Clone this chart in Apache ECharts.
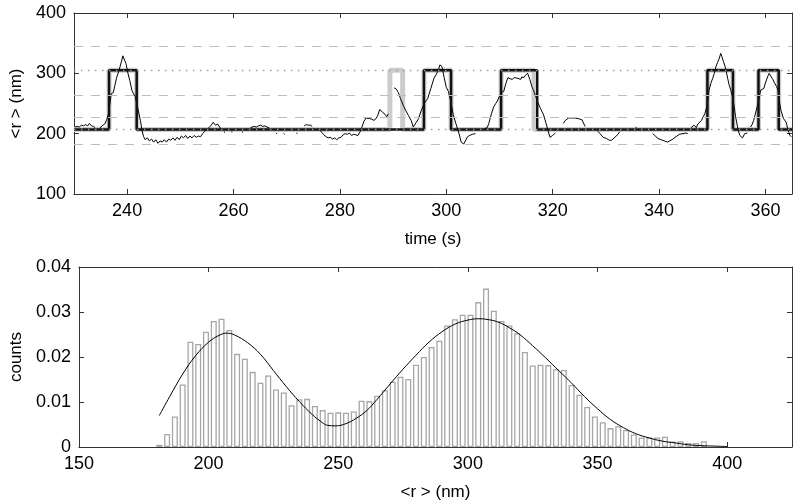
<!DOCTYPE html>
<html>
<head>
<meta charset="utf-8">
<script src="https://cdn.jsdelivr.net/npm/echarts@6/dist/echarts.min.js"></script>
<style>
html,body{margin:0;padding:0;background:#fff}
#c1{width:800px;height:502px}
</style>
</head>
<body>
<div id="c1"></div>
<script>
// top panel: trace of <r> vs time, null = gap in the trace
var traceTime = [230.2,230.6,231.0,231.4,231.8,232.2,232.6,232.9,233.3,233.7,234.0,234.4,
  234.8,235.3,235.8,236.2,236.5,237.0,237.4,237.7,238.0,238.4,238.7,239.0,239.2,239.5,239.8,240.1,240.5,240.9,241.2,241.5,241.9,242.2,242.5,242.8,243.1,243.4,243.8,244.2,244.6,245.0,245.4,245.8,246.2,246.6,247.0,247.4,247.8,248.2,248.6,249.0,249.4,249.8,250.2,250.6,251.0,251.4,251.8,252.2,252.6,253.0,253.4,253.8,254.2,254.6,255.0,255.4,255.8,256.2,256.6,257.0,257.4,257.7,257.9,
  258.2,258.4,259.0,259.6,259.8,260.5,261.6,261.8,262.5,
  263.1,263.5,263.9,264.3,264.7,265.1,265.5,265.9,266.3,266.7,267.3,
  268.0,268.2,268.8,269.4,269.6,270.5,271.8,272.0,272.6,
  273.3,273.7,274.1,274.5,274.8,275.5,
  276.2,276.6,277.0,277.4,277.8,278.2,278.6,279.0,279.4,279.8,280.2,280.6,281.0,281.4,281.8,282.2,282.6,283.0,283.4,283.8,284.1,284.5,284.9,285.2,285.6,286.0,286.4,286.8,287.1,287.5,287.8,288.1,288.5,288.8,289.1,289.7,
  290.2,290.6,291.0,291.4,291.9,292.4,292.9,293.4,293.8,294.3,294.8,295.2,295.6,296.0,296.5,297.1,297.7,298.1,298.5,298.8,299.2,299.6,300.0,300.4,300.8,301.3,301.8,302.4,302.8,303.3,303.6,304.0,304.4,304.9,305.2,305.5,306.3,
  307.1,307.4,307.7,308.0,308.5,308.9,309.3,309.6,310.0,310.4,310.8,311.2,311.6,312.0,312.4,312.8,313.0,313.3,313.6,314.0,314.2,314.6,314.9,315.3,315.7,316.1,316.4,316.8,317.2,317.7,318.3,318.7,319.2,319.5,320.0,320.5,321.2,
  322.0,322.4,322.7,323.0,323.3,323.6,323.9,324.2,324.5,324.8,325.1,325.5,325.8,326.1,327.3,
  328.5,328.9,329.2,329.5,329.8,330.1,330.4,330.7,331.1,331.4,331.7,332.0,332.3,332.6,334.0,
  335.6,335.8,336.4,337.0,337.1,338.0,
  338.8,339.2,339.5,339.8,340.1,340.4,340.7,341.0,341.3,341.6,342.0,342.3,342.6,342.9,343.2,343.5,343.8,344.1,344.5,345.0,345.4,345.7,
  346.0,346.3,346.6,347.0,347.3,347.6,348.0,348.3,348.6,349.0,349.4,349.8,350.1,350.4,350.7,351.0,351.2,351.4,351.6,351.8,352.1,352.4,352.6,352.9,353.2,353.5,353.9,354.4,354.9,355.2,355.5,355.7,356.1,356.6,356.9,
  357.2,357.5,357.8,358.2,358.6,359.1,359.4,359.7,360.0,360.2,360.5,360.7,360.9,361.1,361.4,361.6,362.1,362.4,362.7,362.9,363.4,363.9,364.2,364.4,364.6,364.9];
var traceR = [211,212,211,214,213,215,213,217,213,212,210,null,
  209,213,216,224,233,266,268,280,292,303,312,322,329,322,316,302,288,272,266,262,247,234,222,205,195,190,193,188,191,186,190,184,188,186,190,186,191,189,193,189,194,190,196,193,197,192,196,193,197,194,196,195,200,204,207,210,214,219,214,216,211,207,null,
  203,202,null,203,203,null,202,203,null,
  209,211,212,211,213,214,212,213,211,210,null,
  200,201,null,200,199,null,201,200,null,
  213,215,214,214,212,null,
  206,202,198,195,193,194,191,193,190,193,194,198,200,199,201,197,199,198,197,203,210,220,226,229,225,224,222,225,230,240,243,235,232,228,233,null,
  276,274,268,258,247,238,230,222,211,218,225,236,245,252,258,275,292,298,305,314,311,293,277,270,255,232,217,200,186,183,186,195,197,199,198,200,null,
  208,208,210,217,233,244,250,254,262,268,270,283,293,291,290,293,290,292,292,290,294,293,297,300,290,278,272,262,252,242,231,219,203,194,197,201,null,
  217,222,225,226,228,226,227,226,226,225,225,223,223,212,null,
  204,200,197,194,195,192,191,189,189,192,194,197,199,203,null,
  211,210,null,201,201,null,
  200,197,194,192,191,190,189,188,189,186,188,189,191,193,195,197,199,200,200,201,200,null,
  210,210,214,210,216,217,222,228,233,245,272,285,292,300,311,318,322,327,333,328,320,312,305,292,280,272,258,228,205,197,195,193,200,201,null,
  211,215,222,236,250,272,274,275,284,289,296,300,298,294,290,286,278,272,250,239,225,219,208,202,197,195];

// two-state model (black) and its alternative (grey)
var stepTime  = [230, 236.6, 241.8, 295.8, 300.9, 310.3, 317.1, 349.1, 353.9, 358.7, 362.5, 365];
var stepLevel = [207, 305, 207, 305, 207, 305, 207, 305, 207, 305, 207, 207];
var greyTime  = [230, 236.6, 241.8, 289.4, 291.8, 295.8, 300.9, 310.3, 316.5, 349.1, 353.9, 358.7, 362.5, 365];
var greyLevel = [207, 305, 207, 305, 207, 305, 207, 305, 207, 305, 207, 305, 207, 207];

var dashedLevels = [345, 264, 228, 183];
var dottedLevels = [305, 207];

var timeTicks = [240, 260, 280, 300, 320, 340, 360];

// bottom panel: histogram of <r>
var binCenter = [181,184,187,190,193,196,199,202,205,208,211,214,217,220,223,226,229,232,235,238,241,244,247,250,253,256,259,262,265,268,
  271,274,277,280,283,286,289,292,295,298,301,304,307,310,313,316,319,322,325,328,331,334,337,340,343,346,349,352,355,358,
  361,364,367,370,373,376,379,382,385,388,391];
var binCount = [0.0005,0.0029,0.0068,0.0139,0.0234,0.0229,0.0256,0.0280,0.0285,0.0260,0.0207,0.0196,0.0167,0.0143,0.0159,0.0128,0.0121,0.0093,0.0106,0.0107,
  0.0091,0.0082,0.0076,0.0077,0.0076,0.0079,0.0103,0.0102,0.0114,0.0126,0.0145,0.0156,0.0151,0.0183,0.0200,0.0222,0.0236,0.0270,0.0284,0.0294,
  0.0294,0.0322,0.0352,0.0303,0.0280,0.0270,0.0253,0.0211,0.0181,0.0183,0.0182,0.0173,0.0171,0.0138,0.0116,0.0089,0.0068,0.0055,0.0042,0.0046,
  0.0038,0.0028,0.0021,0.0021,0.0021,0.0023,0.0012,0.0013,0.0009,0.0009,0.0013];

var fitX = [181,185,190,195,200,204,207,210,215,220,225,230,235,240,243,246,249,253,257,261,265,270,275,280,285,290,295,300,304,308,312,316,320,325,330,335,340,345,350,355,360,365,370,375,380,385,390,395,400];
var fitY = [0.0070,0.0112,0.0162,0.0203,0.0233,0.0248,0.0253,0.0249,0.0232,0.0206,0.0170,0.0134,0.0101,0.0072,0.0058,0.0048,0.0047,0.0052,0.0064,0.0081,0.0106,0.0140,0.0173,0.0204,0.0233,0.0256,0.0273,0.0282,0.0285,0.0283,0.0277,0.0265,0.0250,0.0225,0.0198,0.0170,0.0142,0.0112,0.0085,0.0061,0.0043,0.0029,0.0020,0.0013,0.0009,0.0005,0.0003,0.0002,0.0001];

var rTicks = [150, 200, 250, 300, 350, 400];

var font = 'Liberation Sans, Arial, Helvetica, sans-serif';
var axisCol = '#333';

function pairs(xs, ys) {
  return xs.map(function (x, i) { return [x, ys[i] == null ? '-' : ys[i]]; });
}

function xAx(grid, min, max, ticks, pos, name) {
  var a = {
    type: 'value', gridIndex: grid, min: min, max: max, position: pos,
    axisLine: { show: true, onZero: false, lineStyle: { color: axisCol, width: 1 } },
    axisTick: { show: true, inside: true, length: 5, customValues: ticks, lineStyle: { color: axisCol } },
    axisLabel: { show: pos === 'bottom', customValues: ticks, color: '#000', fontSize: 18, fontFamily: font, margin: 8 },
    splitLine: { show: false }
  };
  if (name) {
    a.name = name; a.nameLocation = 'middle'; a.nameGap = 37;
    a.nameTextStyle = { color: '#000', fontSize: 17, fontFamily: font };
  }
  return a;
}

function yAx(grid, min, max, interval, pos, name, fmt) {
  var a = {
    type: 'value', gridIndex: grid, min: min, max: max, interval: interval, position: pos,
    axisLine: { show: true, onZero: false, lineStyle: { color: axisCol, width: 1 } },
    axisTick: { show: true, inside: true, length: 5, lineStyle: { color: axisCol } },
    axisLabel: { show: pos === 'left', color: '#000', fontSize: 18, fontFamily: font, margin: 8, formatter: fmt },
    splitLine: { show: false }
  };
  if (name) {
    a.name = name; a.nameLocation = 'middle'; a.nameGap = 48;
    a.nameTextStyle = { color: '#000', fontSize: 17, fontFamily: font };
  }
  return a;
}

var refLines = [];
dashedLevels.forEach(function (v) {
  refLines.push({ yAxis: v, lineStyle: { color: '#bdbdbd', width: 1.2, type: [9, 8] } });
});
dottedLevels.forEach(function (v) {
  refLines.push({ yAxis: v, lineStyle: { color: '#9a9a9a', width: 1.4, type: [1.5, 5.5] } });
});

var myChart = echarts.init(document.getElementById('c1'));
var option = {
  animation: false,
  backgroundColor: '#fff',
  grid: [
    { left: 71, right: 8, top: 13, height: 181 },
    { left: 71, right: 8, top: 267, height: 181 }
  ],
  xAxis: [
    xAx(0, 230, 365, timeTicks, 'bottom', 'time (s)'),
    xAx(0, 230, 365, timeTicks, 'top'),
    xAx(1, 150, 425, rTicks, 'bottom', '<r > (nm)'),
    xAx(1, 150, 425, rTicks, 'top')
  ],
  yAxis: [
    yAx(0, 100, 400, 100, 'left', '<r > (nm)'),
    yAx(0, 100, 400, 100, 'right'),
    yAx(1, 0, 0.04, 0.01, 'left', 'counts', function (v) { return v === 0 ? '0' : v.toFixed(2); }),
    yAx(1, 0, 0.04, 0.01, 'right')
  ],
  series: [
    {
      name: 'alt', type: 'line', xAxisIndex: 0, yAxisIndex: 0, step: 'end',
      data: pairs(greyTime, greyLevel), showSymbol: false, silent: true,
      lineStyle: { color: '#cccccc', width: 5 },
      markLine: { silent: true, symbol: 'none', label: { show: false }, data: refLines }
    },
    {
      name: 'trace', type: 'line', xAxisIndex: 0, yAxisIndex: 0,
      data: pairs(traceTime, traceR), showSymbol: false, connectNulls: false, silent: true,
      lineStyle: { color: '#000', width: 1 }
    },
    {
      name: 'model', type: 'line', xAxisIndex: 0, yAxisIndex: 0, step: 'end',
      data: pairs(stepTime, stepLevel), showSymbol: false, silent: true,
      lineStyle: { color: '#111', width: 2.5 }
    },
    {
      name: 'hist', type: 'bar', xAxisIndex: 2, yAxisIndex: 2,
      data: pairs(binCenter, binCount), barWidth: 6, silent: true,
      itemStyle: { color: '#ffffff', borderColor: '#a6a6a6', borderWidth: 1.3 }
    },
    {
      name: 'fit', type: 'line', xAxisIndex: 2, yAxisIndex: 2, smooth: 0.4,
      data: pairs(fitX, fitY), showSymbol: false, silent: true,
      lineStyle: { color: '#000', width: 1 }
    }
  ]
};
myChart.setOption(option);
</script>
</body>
</html>
